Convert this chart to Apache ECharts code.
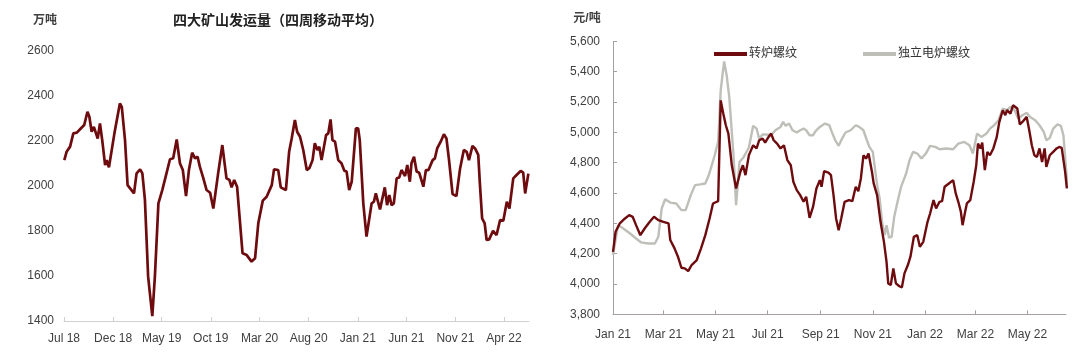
<!DOCTYPE html>
<html>
<head>
<meta charset="utf-8">
<script src="https://cdn.jsdelivr.net/npm/echarts@6/dist/echarts.min.js"></script>
<style>html,body{margin:0;padding:0;background:#fff}#c{width:1080px;height:353px}</style>
</head>
<body>
<div id="c"></div>
<script>
// ---------- Left chart: 四大矿山发运量（四周移动平均），万吨 ----------
const leftDates = ['2018-07-02','2018-07-09','2018-07-20','2018-07-30','2018-08-10','2018-08-20','2018-09-02','2018-09-12','2018-09-18','2018-09-25','2018-10-02','2018-10-14','2018-10-21','2018-10-28','2018-11-06','2018-11-11','2018-11-18','2018-12-05','2018-12-22','2018-12-28','2019-01-07','2019-01-15','2019-02-04','2019-02-12','2019-02-23','2019-03-02','2019-03-10','2019-03-20','2019-04-02','2019-04-10','2019-04-21','2019-05-03','2019-05-14','2019-05-27','2019-06-06','2019-06-17','2019-06-27','2019-07-06','2019-07-16','2019-07-25','2019-08-04','2019-08-13','2019-08-21','2019-08-28','2019-09-08','2019-09-18','2019-09-29','2019-10-09','2019-10-24','2019-11-06','2019-11-19','2019-11-28','2019-12-05','2019-12-13','2019-12-22','2020-01-08','2020-01-21','2020-02-05','2020-02-16','2020-02-26','2020-03-11','2020-03-23','2020-04-08','2020-04-15','2020-04-28','2020-05-06','2020-05-22','2020-06-01','2020-06-09','2020-06-19','2020-06-26','2020-07-05','2020-07-15','2020-07-26','2020-08-03','2020-08-13','2020-08-20','2020-08-28','2020-09-03','2020-09-10','2020-09-24','2020-10-01','2020-10-08','2020-10-14','2020-10-22','2020-11-01','2020-11-11','2020-11-20','2020-11-27','2020-12-05','2020-12-13','2020-12-26','2021-01-02','2021-01-07','2021-01-18','2021-01-28','2021-02-13','2021-02-20','2021-02-26','2021-03-11','2021-03-26','2021-04-02','2021-04-09','2021-04-16','2021-04-23','2021-05-02','2021-05-10','2021-05-17','2021-05-28','2021-06-04','2021-06-12','2021-06-17','2021-06-25','2021-07-03','2021-07-11','2021-07-24','2021-08-01','2021-08-09','2021-08-22','2021-08-29','2021-09-05','2021-09-16','2021-09-26','2021-10-04','2021-10-12','2021-10-23','2021-11-04','2021-11-15','2021-11-27','2021-12-06','2021-12-13','2021-12-24','2022-01-01','2022-01-11','2022-01-16','2022-01-23','2022-01-31','2022-02-06','2022-02-14','2022-02-26','2022-03-09','2022-03-20','2022-03-30','2022-04-10','2022-04-18','2022-04-30','2022-05-11','2022-05-23','2022-05-31','2022-06-06','2022-06-16'];
const leftValues = [2115,2152,2175,2234,2237,2252,2271,2330,2308,2241,2263,2211,2278,2204,2093,2115,2083,2234,2367,2352,2204,2004,1967,2056,2074,2056,1938,1597,1422,1597,1923,1982,2044,2119,2123,2207,2101,2071,1955,2071,2148,2123,2130,2086,2034,1982,1970,1900,2056,2182,2034,2027,1994,2027,1997,1701,1693,1664,1679,1834,1935,1952,2004,2074,2071,1994,1982,2152,2211,2293,2241,2219,2160,2071,2079,2115,2190,2160,2175,2115,2226,2234,2296,2204,2197,2115,2101,2068,2064,1982,2019,2256,2256,2204,1923,1775,1923,1930,1967,1896,1994,1915,1960,1915,1923,2034,2038,2071,2044,2093,2019,2101,2130,2064,2059,1997,2071,2071,2115,2123,2167,2197,2230,2211,2115,1964,1955,2074,2160,2152,2115,2178,2167,2138,2012,1856,1834,1760,1763,1801,1782,1849,1846,1930,1900,2034,2050,2067,2059,1967,2055];
const leftTicks = ['2018-07-01','2018-12-01','2019-05-01','2019-10-01','2020-03-01','2020-08-01','2021-01-01','2021-06-01','2021-11-01','2022-04-01'];

// ---------- Right chart: 螺纹成本，元/吨 ----------
const bofDates = ['2021-01-01','2021-01-04','2021-01-09','2021-01-15','2021-01-20','2021-01-24','2021-01-28','2021-02-02','2021-02-07','2021-02-13','2021-02-18','2021-02-23','2021-03-01','2021-03-07','2021-03-09','2021-03-14','2021-03-18','2021-03-22','2021-03-26','2021-03-30','2021-04-03','2021-04-09','2021-04-14','2021-04-19','2021-04-24','2021-04-28','2021-05-04','2021-05-07','2021-05-10','2021-05-13','2021-05-16','2021-05-20','2021-05-25','2021-05-30','2021-06-02','2021-06-05','2021-06-09','2021-06-14','2021-06-18','2021-06-21','2021-06-25','2021-06-28','2021-07-02','2021-07-05','2021-07-08','2021-07-12','2021-07-16','2021-07-20','2021-07-24','2021-07-28','2021-07-31','2021-08-04','2021-08-08','2021-08-12','2021-08-15','2021-08-19','2021-08-23','2021-08-27','2021-08-31','2021-09-02','2021-09-05','2021-09-10','2021-09-13','2021-09-16','2021-09-19','2021-09-22','2021-09-25','2021-09-29','2021-10-04','2021-10-08','2021-10-12','2021-10-15','2021-10-18','2021-10-21','2021-10-24','2021-10-27','2021-10-31','2021-11-02','2021-11-06','2021-11-10','2021-11-14','2021-11-17','2021-11-19','2021-11-22','2021-11-25','2021-11-28','2021-12-02','2021-12-05','2021-12-08','2021-12-12','2021-12-15','2021-12-19','2021-12-23','2021-12-26','2021-12-30','2022-01-04','2022-01-07','2022-01-11','2022-01-14','2022-01-18','2022-01-21','2022-01-24','2022-01-29','2022-02-03','2022-02-06','2022-02-09','2022-02-12','2022-02-14','2022-02-17','2022-02-19','2022-02-23','2022-02-27','2022-03-02','2022-03-04','2022-03-07','2022-03-09','2022-03-12','2022-03-15','2022-03-18','2022-03-22','2022-03-26','2022-03-29','2022-04-02','2022-04-05','2022-04-07','2022-04-11','2022-04-14','2022-04-16','2022-04-19','2022-04-22','2022-04-25','2022-04-30','2022-05-03','2022-05-06','2022-05-09','2022-05-12','2022-05-15','2022-05-18','2022-05-21','2022-05-23','2022-05-27','2022-05-31','2022-06-04','2022-06-07','2022-06-10','2022-06-12','2022-06-14','2022-06-16'];
const bofValues = [4212,4344,4400,4432,4454,4443,4388,4322,4366,4410,4443,4421,4410,4400,4290,4235,4180,4107,4103,4085,4125,4158,4235,4322,4432,4531,4546,5211,5124,5047,4992,4783,4630,4740,4783,4718,4850,4915,4894,4948,4959,4933,4970,4992,4948,4926,4894,4915,4817,4783,4674,4619,4586,4542,4575,4436,4508,4630,4685,4641,4744,4735,4718,4586,4432,4355,4432,4542,4553,4546,4641,4612,4696,4849,4827,4860,4739,4663,4586,4410,4278,4147,4004,3993,4103,4004,3985,3978,4070,4125,4180,4311,4322,4245,4278,4410,4465,4553,4498,4542,4546,4641,4663,4685,4597,4542,4476,4388,4476,4531,4553,4674,4783,4926,4894,4933,4751,4871,4849,4894,4970,5069,5146,5113,5146,5124,5179,5190,5157,5052,5069,5102,5014,4915,4849,4838,4894,4805,4894,4772,4849,4871,4894,4904,4898,4904,4739,4630];
const eafDates = ['2021-01-01','2021-01-07','2021-01-13','2021-01-21','2021-01-28','2021-02-03','2021-02-11','2021-02-19','2021-02-23','2021-02-27','2021-03-03','2021-03-09','2021-03-16','2021-03-22','2021-03-27','2021-04-02','2021-04-07','2021-04-13','2021-04-19','2021-04-23','2021-04-26','2021-04-30','2021-05-04','2021-05-07','2021-05-11','2021-05-14','2021-05-17','2021-05-19','2021-05-22','2021-05-25','2021-05-29','2021-06-03','2021-06-09','2021-06-14','2021-06-18','2021-06-21','2021-06-25','2021-06-29','2021-07-05','2021-07-10','2021-07-16','2021-07-19','2021-07-22','2021-07-26','2021-07-30','2021-08-04','2021-08-08','2021-08-12','2021-08-15','2021-08-19','2021-08-23','2021-08-26','2021-08-31','2021-09-06','2021-09-11','2021-09-14','2021-09-18','2021-09-22','2021-09-26','2021-09-30','2021-10-06','2021-10-12','2021-10-16','2021-10-21','2021-10-25','2021-10-28','2021-11-01','2021-11-04','2021-11-06','2021-11-09','2021-11-12','2021-11-15','2021-11-17','2021-11-20','2021-11-23','2021-11-26','2021-11-29','2021-12-04','2021-12-10','2021-12-14','2021-12-18','2021-12-23','2021-12-28','2022-01-02','2022-01-07','2022-01-13','2022-01-18','2022-01-26','2022-02-03','2022-02-09','2022-02-16','2022-02-22','2022-02-26','2022-03-03','2022-03-08','2022-03-14','2022-03-18','2022-03-23','2022-03-28','2022-04-02','2022-04-07','2022-04-11','2022-04-16','2022-04-20','2022-04-25','2022-04-30','2022-05-04','2022-05-10','2022-05-15','2022-05-20','2022-05-23','2022-05-27','2022-05-31','2022-06-05','2022-06-09','2022-06-12','2022-06-15','2022-06-17'];
const eafValues = [4191,4388,4366,4333,4300,4274,4267,4267,4311,4498,4559,4537,4531,4487,4487,4586,4652,4657,4663,4717,4772,4849,4937,5277,5468,5376,5234,5234,4849,4520,4805,4838,4900,5043,5025,4959,4986,4986,4981,5014,5036,5069,5043,5058,5014,4999,5014,5025,5014,4981,4981,5008,5036,5058,5047,5003,4948,4911,4959,4999,5014,5047,5036,5014,4948,4904,4871,4739,4652,4564,4400,4322,4388,4305,4311,4443,4520,4640,4729,4817,4871,4860,4827,4860,4911,4904,4889,4894,4889,4926,4937,4915,4860,4992,4970,4992,5025,5047,5080,5157,5146,5168,5146,5091,5113,5130,5102,5080,5047,5003,4948,4963,5025,5052,5043,4981,4762,4630];
const rightTicks = ['2021-01-01','2021-03-01','2021-05-01','2021-07-01','2021-09-01','2021-11-01','2022-01-01','2022-03-01','2022-05-01'];
const seriesNames = ['转炉螺纹','独立电炉螺纹'];

const MONTHS = ['Jan','Feb','Mar','Apr','May','Jun','Jul','Aug','Sep','Oct','Nov','Dec'];
function toTs(s){const p=s.split('-').map(Number);return Date.UTC(p[0],p[1]-1,p[2]);}
function fmtMonth(v){const d=new Date(v);return MONTHS[d.getUTCMonth()]+' '+String(d.getUTCFullYear()).slice(2);}
function pairs(ds,vs){return ds.map((d,i)=>[toTs(d),vs[i]]);}

const FONT = '"Liberation Sans", Arial, "Noto Sans CJK SC", sans-serif';
const TXT = '#404040';
const RED = '#6e0b0e';
const GREY = '#bfbfb9';

const chart = echarts.init(document.getElementById('c'), null, {renderer:'canvas'});
chart.setOption({
  animation:false,
  backgroundColor:'#fff',
  textStyle:{fontFamily:FONT},
  graphic:[
    {type:'text', x:45, y:21, style:{text:'万吨', font:'bold 12px '+FONT, fill:TXT, textAlign:'center', textVerticalAlign:'middle'}},
    {type:'text', x:278, y:21, style:{text:'四大矿山发运量（四周移动平均）', font:'bold 14px '+FONT, fill:'#222', textAlign:'center', textVerticalAlign:'middle'}},
    {type:'text', x:587, y:19, style:{text:'元/吨', font:'bold 12px '+FONT, fill:TXT, textAlign:'center', textVerticalAlign:'middle'}}
  ],
  legend:{
    data:seriesNames, left:709, top:43, icon:'rect', itemWidth:33, itemHeight:4, itemGap:66,
    textStyle:{fontSize:12, color:'#333', fontFamily:FONT, padding:[0,0,0,-3]}
  },
  grid:[
    {left:64, top:51, width:465, height:270},
    {left:613, top:41.4, width:453, height:272.9}
  ],
  xAxis:[
    {type:'value', gridIndex:0, min:toTs('2018-07-01'), max:toTs('2022-06-18'),
     axisLine:{lineStyle:{color:'#d0d0d0', width:1}},
     axisTick:{show:true, inside:true, length:4, lineStyle:{color:'#d0d0d0'}, customValues:leftTicks.map(toTs)},
     axisLabel:{customValues:leftTicks.map(toTs), formatter:fmtMonth, color:TXT, fontSize:12, fontFamily:FONT, margin:12, hideOverlap:false},
     splitLine:{show:false}},
    {type:'value', gridIndex:1, min:toTs('2021-01-01'), max:toTs('2022-06-15'),
     axisLine:{lineStyle:{color:'#a8a0a0', width:1}},
     axisTick:{show:true, inside:true, length:4, lineStyle:{color:'#a8a0a0'}, customValues:rightTicks.map(toTs)},
     axisLabel:{customValues:rightTicks.map(toTs), formatter:fmtMonth, color:TXT, fontSize:12, fontFamily:FONT, margin:14, hideOverlap:false},
     splitLine:{show:false}}
  ],
  yAxis:[
    {type:'value', gridIndex:0, min:1400, max:2600, interval:200,
     axisLine:{show:false}, axisTick:{show:false}, splitLine:{show:false},
     axisLabel:{color:TXT, fontSize:12, fontFamily:FONT, margin:10, formatter:v=>String(v)}},
    {type:'value', gridIndex:1, min:3800, max:5600, interval:200,
     axisLine:{show:true, lineStyle:{color:'#a0a0a0', width:1}},
     axisTick:{show:true, inside:true, length:4, lineStyle:{color:'#a0a0a0'}},
     splitLine:{show:false},
     axisLabel:{color:TXT, fontSize:12, fontFamily:FONT, margin:13,
       formatter:v=>String(v).replace(/\B(?=(\d{3})+(?!\d))/g, ',')}}
  ],
  series:[
    {name:'发运量', type:'line', xAxisIndex:0, yAxisIndex:0, data:pairs(leftDates,leftValues),
     symbol:'none', lineStyle:{color:RED, width:2.7}, itemStyle:{color:RED}},
    {name:seriesNames[0], type:'line', xAxisIndex:1, yAxisIndex:1, data:pairs(bofDates,bofValues), z:3,
     symbol:'none', lineStyle:{color:RED, width:2.4}, itemStyle:{color:RED}},
    {name:seriesNames[1], type:'line', xAxisIndex:1, yAxisIndex:1, data:pairs(eafDates,eafValues), z:2,
     symbol:'none', lineStyle:{color:GREY, width:2.4}, itemStyle:{color:GREY}}
  ]
});
</script>
</body>
</html>
